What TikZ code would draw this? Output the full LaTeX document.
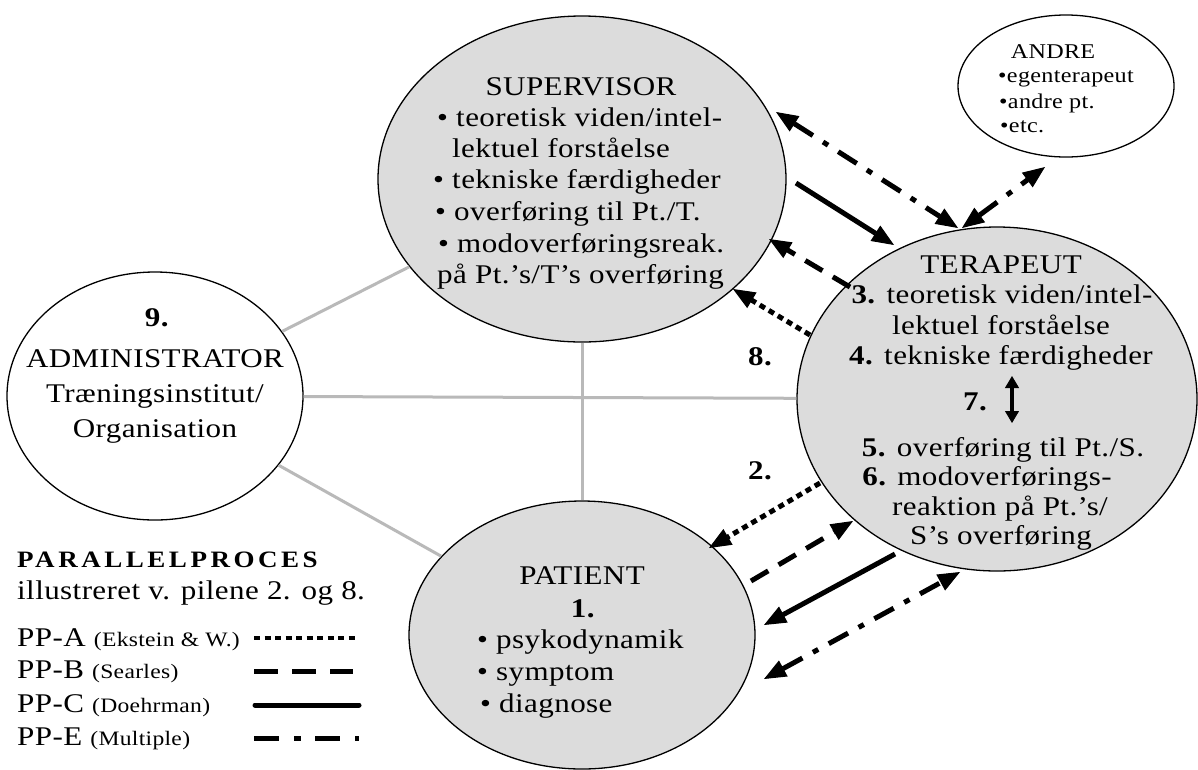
\documentclass[tikz,border=0pt]{standalone}
\usepackage{fontspec}
\setmainfont[FakeStretch=1.15,LetterSpace=1.5]{Liberation Serif}
\newfontfamily\titlefont[FakeStretch=1.15,LetterSpace=15]{Liberation Serif}
\usetikzlibrary{arrows.meta,shapes.geometric}
\definecolor{ellgray}{RGB}{220,220,220}
\definecolor{linegray}{RGB}{185,185,185}
\newcommand{\mainsz}{\fontsize{27}{31}\selectfont}
\newcommand{\andresz}{\fontsize{21}{24}\selectfont}
\newcommand{\smallsz}{\fontsize{20.5}{24}\selectfont}
\tikzset{
  ell/.style={ellipse, draw=black, line width=1.3pt, fill=ellgray, inner sep=0pt},
  ellw/.style={ellipse, draw=black, line width=1.3pt, fill=white, inner sep=0pt},
  txt/.style={inner sep=0pt, font=\mainsz, anchor=base},
  lt/.style={txt, anchor=base west},
  atxt/.style={inner sep=0pt, font=\andresz, anchor=base},
  alt/.style={atxt, anchor=base west},
  grayline/.style={draw=linegray, line width=3pt},
  arr/.style={line width=5pt, -{Triangle[length=22pt,width=18pt,line width=1pt]}},
  darr/.style={line width=5pt, {Triangle[length=22pt,width=18pt,line width=1pt]}-{Triangle[length=22pt,width=18pt,line width=1pt]}},
  pdot/.style={dash pattern=on 6pt off 4.5pt},
  pdash/.style={dash pattern=on 20pt off 12pt},
  pdashdot/.style={dash pattern=on 22pt off 12pt on 6pt off 12pt},
  legline/.style={line width=5pt},
}
\begin{document}
\begin{tikzpicture}[x=1pt,y=-1pt]
\useasboundingbox (0,0) rectangle (1198,769);
\fill[white] (0,0) rectangle (1198,769);

% ellipses
\node[ell, minimum width=408pt, minimum height=326pt] (sup) at (582,179) {};
\node[ellw, minimum width=296pt, minimum height=248pt] (adm) at (155,396) {};
\node[ell, minimum width=400pt, minimum height=344pt] (ter) at (997,399) {};
\node[ell, minimum width=346pt, minimum height=268pt] (pat) at (582,635) {};
\node[ellw, minimum width=216pt, minimum height=142pt] (and) at (1066,86) {};

% gray connectors
\draw[grayline] (adm) -- (sup);
\draw[grayline] (adm) -- (ter);
\draw[grayline] (adm) -- (pat);
\draw[grayline] (sup) -- (pat);

% supervisor text
\node[txt] (s0) at (581,95) {SUPERVISOR};
\node[lt] (s1) at (437,126) {• teoretisk viden/intel-};
\node[lt] (s2) at (452,157) {lektuel forståelse};
\node[lt] (s3) at (433,188) {• tekniske færdigheder};
\node[lt] (s4) at (435,220) {• overføring til Pt./T.};
\node[lt] (s5) at (438,252) {• modoverføringsreak.};
\node[lt] (s6) at (437,283) {på Pt.’s/T’s overføring};

% terapeut text
\node[txt] (t0) at (1001,273) {TERAPEUT};
\node[txt] (t1) at (1002,303) {\textbf{3.} teoretisk viden/intel-};
\node[txt] (t2) at (1001,334) {lektuel forståelse};
\node[txt] (t3) at (1001,364) {\textbf{4.} tekniske færdigheder};
\node[lt] (t7) at (963,410) {\textbf{7.}};
\node[txt] (t4) at (1003,456) {\textbf{5.} overføring til Pt./S.};
\node[txt] (t5) at (987,485) {\textbf{6.} modoverførings-};
\node[txt] (t6) at (1000,515) {reaktion på Pt.’s/};
\node[txt] (t8) at (1001,544) {S’s overføring};

% patient text
\node[txt] (p0) at (582,584) {PATIENT};
\node[txt] (p1) at (583,617) {\textbf{1.}};
\node[lt] (p2) at (477,648) {• psykodynamik};
\node[lt] (p3) at (477,680) {• symptom};
\node[lt] (p4) at (480,712) {• diagnose};

% administrator text
\node[txt] (d0) at (157,326) {\textbf{9.}};
\node[txt] (d1) at (155,367) {ADMINISTRATOR};
\node[txt] (d2) at (155,402) {Træningsinstitut/};
\node[txt] (d3) at (155,437) {Organisation};

% andre text
\node[atxt] (n0) at (1053,58) {ANDRE};
\node[alt] (n1) at (998,82) {•egenterapeut};
\node[alt] (n2) at (999,108) {•andre pt.};
\node[alt] (n3) at (1000,132) {•etc.};

% arrow labels
\node[lt] (l8) at (748,365) {\textbf{8.}};
\node[lt] (l2) at (748,479) {\textbf{2.}};

% arrow end points
\coordinate (a1s) at (776,112); \coordinate (a1e) at (958,228);
\coordinate (a2s) at (962,228); \coordinate (a2e) at (1045,167);
\coordinate (a3s) at (796,183); \coordinate (a3e) at (894,245);
\coordinate (a4s) at (850,287); \coordinate (a4e) at (769,239);
\coordinate (a5s) at (810,335); \coordinate (a5e) at (733,289);
\coordinate (a6s) at (820,483); \coordinate (a6e) at (709,548);
\coordinate (a7s) at (751,581); \coordinate (a7e) at (853,521);
\coordinate (a8s) at (895,554); \coordinate (a8e) at (764,625);
\coordinate (a9s) at (764,679); \coordinate (a9e) at (960,572);
\coordinate (a10s) at (1012,376); \coordinate (a10e) at (1012,423);

\draw[darr, pdashdot] (a1s) -- (a1e);
\draw[darr, pdashdot] (a2s) -- (a2e);
\draw[arr] (a3s) -- (a3e);
\draw[arr, pdash] (a4s) -- (a4e);
\draw[arr, pdot] (a5s) -- (a5e);
\draw[arr, pdot] (a6s) -- (a6e);
\draw[arr, pdash] (a7s) -- (a7e);
\draw[arr] (a8s) -- (a8e);
\draw[darr, pdashdot] (a9s) -- (a9e);
\draw[line width=4.5pt, {Triangle[length=12pt,width=14pt,line width=1pt]}-{Triangle[length=12pt,width=14pt,line width=1pt]}] (a10s) -- (a10e);

% legend
\node[inner sep=0pt, anchor=base west, font=\fontsize{23.5}{27}\selectfont\titlefont\bfseries] (lg0) at (17,567) {PARALLELPROCES};
\node[lt] (lg1) at (17,599) {illustreret v. pilene 2. og 8.};
\node[lt] (lgA) at (17,646) {PP-A {\smallsz(Ekstein \& W.)}};
\node[lt] (lgB) at (17,678) {PP-B {\smallsz(Searles)}};
\node[lt] (lgC) at (17,712) {PP-C {\smallsz(Doehrman)}};
\node[lt] (lgE) at (17,745) {PP-E {\smallsz(Multiple)}};

\coordinate (lAs) at (254,638); \coordinate (lAe) at (359,638);
\coordinate (lBs) at (254,671); \coordinate (lBe) at (353,671);
\coordinate (lCs) at (255,705); \coordinate (lCe) at (359,705);
\coordinate (lEs) at (254,738); \coordinate (lEe) at (359,738);
\draw[line width=4.7pt, pdot] (lAs) -- (lAe);
\draw[legline, dash pattern=on 24pt off 14pt] (lBs) -- (lBe);
\draw[legline, line cap=round] (lCs) -- (lCe);
\draw[legline, dash pattern=on 25pt off 15pt on 7pt off 14pt] (lEs) -- (lEe);
\end{tikzpicture}
\end{document}
